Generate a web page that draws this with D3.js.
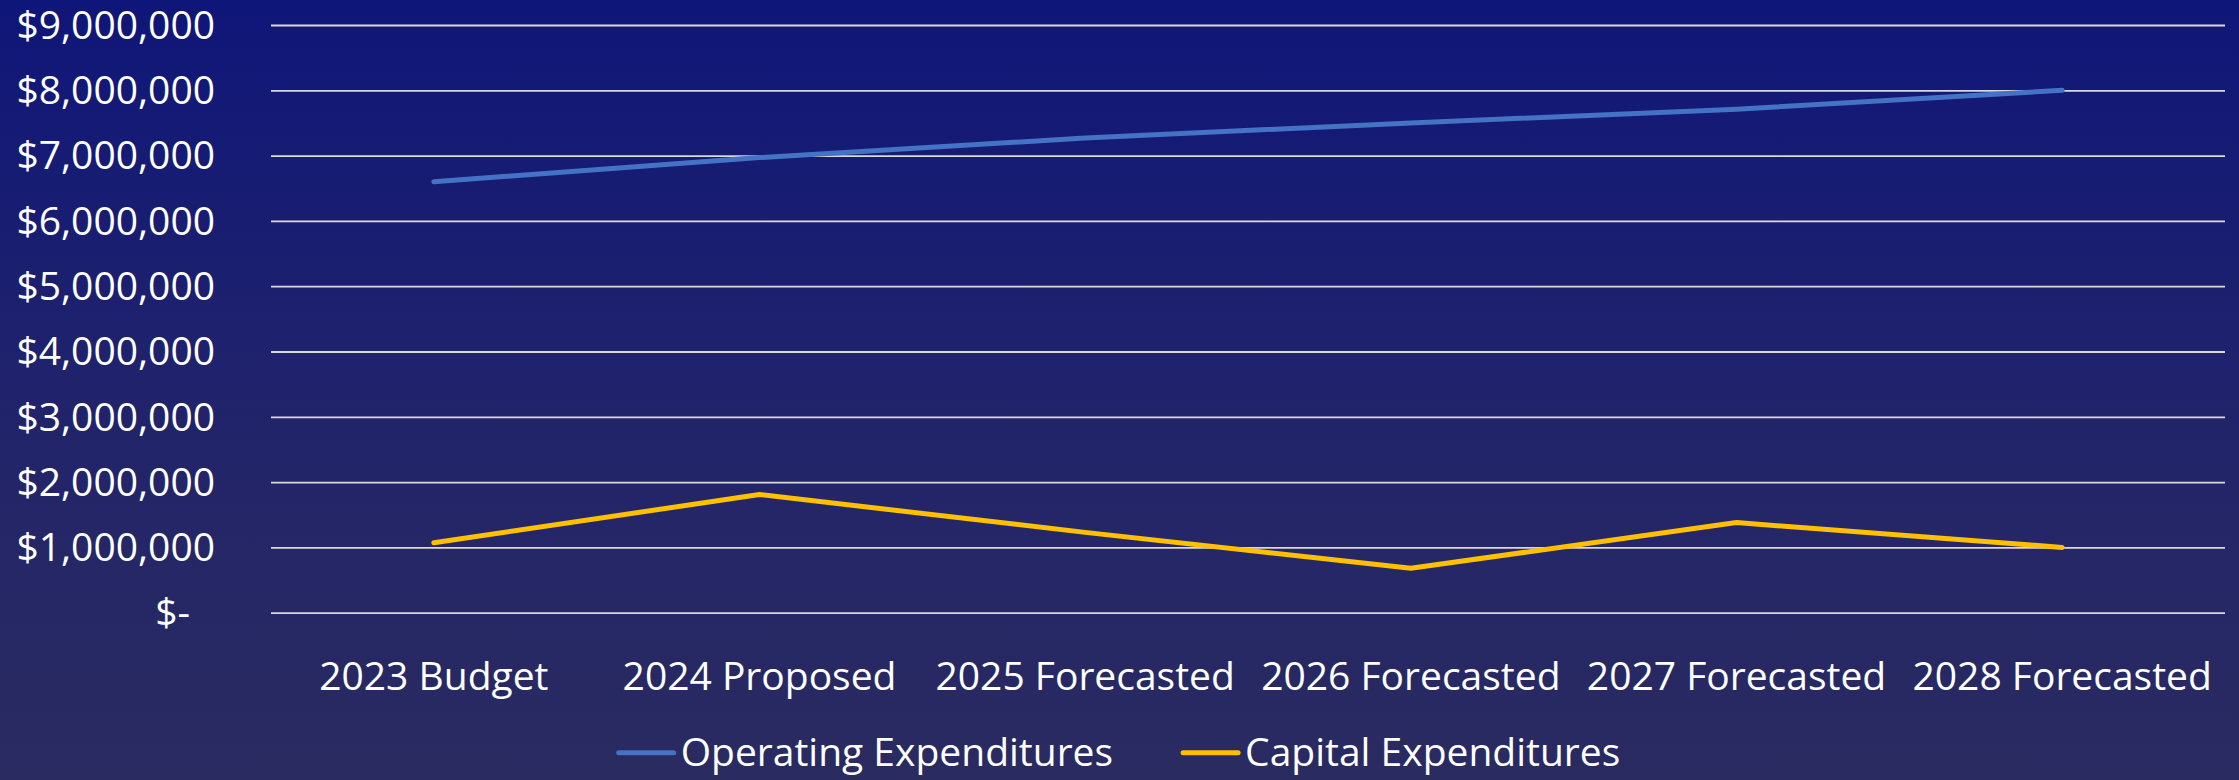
<!DOCTYPE html>
<html>
<head>
<meta charset="utf-8">
<script src="https://cdn.jsdelivr.net/npm/d3@7"></script>
<style>
  html, body { margin: 0; padding: 0; overflow: hidden; }
  body { width: 2239px; height: 780px; }
  text { font-family: "Open Sans", "Noto Sans", sans-serif; fill: #ffffff; }
</style>
</head>
<body>
<div id="main"></div>
<script>
// chart data
const categories = ['2023 Budget', '2024 Proposed', '2025 Forecasted', '2026 Forecasted', '2027 Forecasted', '2028 Forecasted'];
const operating = [6600000, 6970000, 7270000, 7500000, 7710000, 8000000];
const capital = [1070000, 1810000, 1230000, 680000, 1380000, 1000000];
const yTicks = [0, 1000000, 2000000, 3000000, 4000000, 5000000, 6000000, 7000000, 8000000, 9000000];
const seriesNames = ['Operating Expenditures', 'Capital Expenditures'];

function main() {
  // svg size and plot box
  const width = 2239;
  const height = 780;
  const left = 271;
  const right = 2225;
  const top = 25;
  const bottom = 612.7;
  const fontSize = 39;

  const svg = d3.select('#main')
    .append('svg')
    .attr('width', width)
    .attr('height', height);

  // background gradient
  const grad = svg.append('defs')
    .append('linearGradient')
    .attr('id', 'bg')
    .attr('x1', 0).attr('y1', 0)
    .attr('x2', 0).attr('y2', 1);
  grad.append('stop').attr('offset', '0%').attr('stop-color', '#0f1679');
  grad.append('stop').attr('offset', '55%').attr('stop-color', '#22246a');
  grad.append('stop').attr('offset', '100%').attr('stop-color', '#2a2b60');
  svg.append('rect')
    .attr('width', width)
    .attr('height', height)
    .attr('fill', 'url(#bg)');

  const xScale = d3.scaleBand()
    .domain(categories)
    .range([left, right])
    .padding(0);
  const xMid = d => xScale(d) + xScale.bandwidth() / 2;

  const yScale = d3.scaleLinear()
    .domain([0, 9000000])
    .range([bottom, top]);

  // money format like the accounting style in the sheet
  const money = v => (v === 0 ? '$-' : '$' + d3.format(',')(v));

  // y axis with gridlines
  const yAxis = d3.axisLeft(yScale)
    .tickValues(yTicks)
    .tickFormat(money)
    .tickSize(-(right - left))
    .tickPadding(0);

  const gy = svg.append('g')
    .attr('transform', `translate(${left}, 0)`)
    .call(yAxis);
  gy.select('.domain').remove();
  gy.selectAll('.tick line')
    .attr('stroke', '#d9d9d9')
    .attr('stroke-width', 1.8);
  gy.selectAll('.tick text')
    .attr('x', d => (d === 0 ? -81 : -56))
    .attr('dy', '0.34em')
    .style('font-size', `${fontSize}px`)
    .style('fill', '#ffffff');

  // x axis labels
  const xAxis = d3.axisBottom(xScale)
    .tickSize(0)
    .tickPadding(0);
  const gx = svg.append('g')
    .attr('transform', `translate(0, ${bottom})`)
    .call(xAxis);
  gx.select('.domain').remove();
  gx.selectAll('.tick text')
    .attr('y', 77)
    .attr('dy', 0)
    .style('font-size', `${fontSize}px`)
    .style('fill', '#ffffff');

  // lines
  const line = d3.line()
    .x((d, i) => xMid(categories[i]))
    .y(d => yScale(d));

  const colors = ['#4472c4', '#ffc000'];
  [operating, capital].forEach((series, i) => {
    svg.append('path')
      .datum(series)
      .attr('d', line)
      .attr('fill', 'none')
      .attr('stroke', colors[i])
      .attr('stroke-width', 5)
      .attr('stroke-linecap', 'round')
      .attr('stroke-linejoin', 'round');
  });

  // legend, centered on the whole picture
  const legendY = 752.7;
  const swatch = 55;
  const gap = 7;
  const itemGap = 70;
  const legend = svg.append('g');
  const items = seriesNames.map((name, i) => {
    const g = legend.append('g');
    g.append('line')
      .attr('x1', 0).attr('x2', swatch)
      .attr('y1', legendY).attr('y2', legendY)
      .attr('stroke', colors[i])
      .attr('stroke-width', 5)
      .attr('stroke-linecap', 'round');
    const t = g.append('text')
      .attr('x', swatch + gap)
      .attr('y', legendY)
      .attr('dy', '0.34em')
      .style('font-size', `${fontSize}px`)
      .text(name);
    return { g, w: swatch + gap + t.node().getComputedTextLength() };
  });
  const total = d3.sum(items, d => d.w) + itemGap * (items.length - 1);
  let cursor = width / 2 - total / 2;
  items.forEach(it => {
    it.g.attr('transform', `translate(${cursor}, 0)`);
    cursor += it.w + itemGap;
  });
}

document.addEventListener('DOMContentLoaded', main);
</script>
</body>
</html>
